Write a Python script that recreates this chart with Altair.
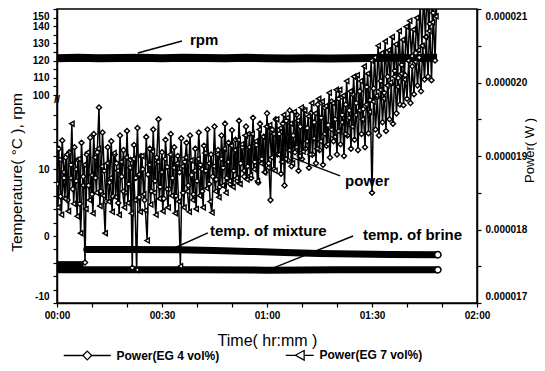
import altair as alt
import pandas as pd

FONT = "Liberation Sans"

# ---------------- data ----------------
power_series = ["Power(EG 4 vol%)", "Power(EG 7 vol%)"]
sample_step = 0.5      # minutes between samples
eg4_start = 0.0
eg7_start = 0.25

# power in micro-watts (axis shows W)
eg4_power = [
    18.62, 19.10, 18.45, 19.21, 18.70, 18.98, 18.40, 19.05, 18.88, 18.55,
    19.12, 18.66, 18.95, 18.35, 19.18, 18.72, 17.55, 19.02, 18.60, 19.25,
    18.48, 19.30, 18.70, 19.05, 19.66, 18.52, 19.32, 18.80, 18.38, 19.12,
    18.64, 19.20, 18.45, 19.02, 18.90, 18.36, 19.28, 18.72, 19.08, 18.50,
    19.34, 18.62, 18.95, 17.48, 19.15, 18.70, 19.38, 18.44, 19.00, 18.82,
    18.40, 19.26, 18.75, 19.10, 18.52, 19.36, 18.66, 18.98, 19.50, 18.58,
    19.05, 18.42, 19.22, 18.85, 18.55, 19.30, 18.70, 19.12, 18.46, 19.00,
    18.78, 19.24, 18.50, 18.92, 19.18, 18.60, 19.28, 18.74, 18.48, 19.10,
    18.66, 19.32, 18.88, 18.52, 19.14, 18.80, 19.36, 18.62, 19.02, 18.72,
    19.40, 18.68, 19.08, 18.58, 19.28, 18.84, 19.44, 18.70, 19.18, 18.62,
    19.35, 18.80, 19.22, 18.66, 19.48, 18.90, 19.12, 18.72, 19.40, 18.86,
    19.30, 18.70, 19.52, 18.92, 19.15, 18.64, 19.44, 18.96, 19.26, 18.78,
    19.58, 18.90, 18.40, 19.36, 18.82, 19.50, 19.02, 19.30, 18.76, 19.44,
    18.60, 19.48, 18.94, 19.62, 18.86, 19.28, 19.05, 19.56, 18.80, 19.40,
    18.96, 19.64, 19.10, 19.38, 18.84, 19.58, 19.02, 19.46, 18.90, 19.70,
    19.08, 19.52, 18.88, 19.66, 19.14, 19.42, 18.98, 19.74, 19.20, 19.50,
    19.02, 19.78, 19.16, 19.56, 19.00, 19.70, 19.28, 19.62, 19.10, 19.84,
    19.22, 19.72, 19.08, 19.88, 19.30, 19.64, 19.12, 19.94, 19.31, 19.76,
    18.50, 19.92, 19.36, 19.80, 19.28, 20.02, 19.46, 19.86, 19.34, 20.08,
    19.50, 19.98, 19.44, 20.16, 19.58, 20.06, 19.70, 20.24, 19.69, 20.10,
    19.78, 20.30, 19.72, 20.22, 19.84, 20.40, 19.96, 20.34, 19.88, 20.50,
    20.04, 20.62, 20.08, 20.80, 20.03, 20.95, 20.30, 21.10,
]
eg7_power = [
    18.30, 18.95, 18.20, 18.78, 18.42, 19.02, 18.25, 18.70, 19.44, 18.35,
    18.82, 18.18, 18.96, 17.95, 18.60, 18.88, 18.28, 19.05, 18.40, 18.74,
    18.22, 18.98, 18.50, 19.10, 18.32, 18.86, 18.46, 17.95, 18.90, 18.38,
    18.70, 18.24, 19.04, 18.44, 18.80, 18.20, 18.92, 18.52, 18.30, 18.98,
    18.36, 18.84, 18.22, 18.96, 18.40, 17.45, 18.75, 18.24, 19.00, 18.48,
    18.26, 17.85, 18.88, 18.34, 19.06, 18.50, 18.20, 18.92, 18.42, 18.78,
    18.25, 18.96, 18.55, 18.30, 19.02, 18.46, 18.84, 18.22, 18.90, 18.38,
    17.50, 18.86, 18.30, 18.98, 18.52, 18.24, 18.94, 18.40, 18.80, 18.28,
    18.96, 18.46, 18.82, 18.30, 19.04, 18.56, 18.90, 18.38, 18.23, 18.86,
    18.52, 19.02, 18.44, 18.96, 18.60, 19.10, 18.50, 18.92, 18.66, 19.14,
    18.58, 19.08, 18.70, 19.22, 18.62, 19.16, 18.80, 19.28, 18.68, 19.12,
    18.74, 19.30, 18.82, 19.20, 18.66, 19.36, 18.90, 19.26, 18.78, 19.40,
    18.84, 19.42, 18.98, 19.30, 18.80, 19.50, 19.02, 19.38, 18.92, 19.56,
    18.96, 19.52, 19.08, 19.44, 18.90, 19.60, 19.12, 19.48, 19.00, 19.66,
    19.06, 19.62, 19.20, 19.54, 19.02, 19.72, 19.24, 19.58, 19.10, 19.78,
    19.20, 19.74, 19.30, 19.68, 19.16, 19.86, 19.36, 19.72, 19.26, 19.90,
    19.34, 19.90, 19.46, 19.82, 19.30, 20.02, 19.52, 19.88, 19.40, 20.08,
    19.56, 20.10, 19.62, 20.02, 19.50, 20.22, 19.70, 20.12, 19.60, 20.30,
    19.74, 20.34, 19.82, 20.50, 19.90, 20.40, 19.78, 20.56, 19.96, 20.44,
    20.00, 20.62, 20.08, 20.52, 19.94, 20.70, 20.12, 20.58, 20.04, 20.76,
    20.30, 20.84, 20.36, 20.72, 20.28, 20.88, 20.44, 21.05, 20.50, 21.20,
    20.62, 21.25, 20.70, 21.35, 20.82, 21.40, 20.90, 21.50,
]

rpm_time = [0, 6, 12, 18, 24, 30, 36, 42, 48, 54, 60, 66, 72, 78, 84, 90, 96, 102, 108.6]
rpm_value = [121.4, 121.6, 121.3, 121.5, 121.7, 121.4, 121.6, 121.5, 121.3, 121.6,
             121.4, 121.2, 121.3, 121.2, 121.4, 121.5, 121.6, 121.5, 121.6]

mixture_start_time = [0, 7.6]
mixture_start_temp = [-4.2, -4.2]
mixture_time = [8.5, 20, 35, 45, 55, 65, 75, 85, 95, 108.8]
mixture_temp = [-2.0, -2.0, -2.05, -2.15, -2.3, -2.45, -2.6, -2.7, -2.75, -2.8]
brine_time = [0, 20, 40, 60, 80, 100, 108.8]
brine_temp = [-5.05, -5.05, -5.05, -5.1, -5.05, -5.05, -5.05]

ann_text = ["rpm", "power", "temp. of mixture", "temp. of brine"]
ann_time = [38.0, 82.3, 43.7, 87.4]
ann_value = [132.0, 8.2, 0.75, 0.15]
pointer_time_from = [23.1, 66.6, 32.9, 61.7]
pointer_value_from = [124.4, 11.8, -1.94, -4.8]
pointer_time_to = [35.7, 80.9, 43.1, 84.6]
pointer_value_to = [131.4, 8.96, 0.45, 0.0]

time_ticks = list(range(0, 121, 10))
temp_ticks = list(range(-10, 20, 2)) + list(range(100, 151, 5))
power_ticks = [17, 17.5, 18, 18.5, 19, 19.5, 20, 20.5, 21]

# ---------------- tables ----------------
eg4_time = [eg4_start + sample_step * i for i in range(len(eg4_power))]
eg7_time = [eg7_start + sample_step * i for i in range(len(eg7_power))]
power_df = pd.DataFrame({
    "t": eg4_time + eg7_time,
    "p": eg4_power + eg7_power,
    "series": [power_series[0]] * len(eg4_power) + [power_series[1]] * len(eg7_power),
})
rpm_df = pd.DataFrame({"t": rpm_time, "v": rpm_value})
mix0_df = pd.DataFrame({"t": mixture_start_time, "v": mixture_start_temp})
mix_df = pd.DataFrame({"t": mixture_time, "v": mixture_temp})
brine_df = pd.DataFrame({"t": brine_time, "v": brine_temp})
ends_df = pd.DataFrame({"t": [mixture_time[-1], brine_time[-1]],
                        "v": [mixture_temp[-1], brine_temp[-1]]})
ann_df = pd.DataFrame({"t": ann_time, "v": ann_value, "label": ann_text})
ptr_df = pd.DataFrame({"t": pointer_time_from, "v": pointer_value_from,
                       "t2": pointer_time_to, "v2": pointer_value_to})
brk_df = pd.DataFrame({"t": [0], "v": [45], "label": ["//"]})

# ---------------- scales / axes ----------------
W, H = 420, 294

axis_style = dict(domainColor="black", domainWidth=1.5, tickColor="black", tickWidth=1.2,
                  tickSize=4, labelFont=FONT, labelFontSize=10, labelFontWeight="bold",
                  labelColor="black", titleFont=FONT,
                  titleFontWeight="normal", titleColor="black", grid=False,
                  labelOverlap=False)

x_axis = alt.Axis(
    values=time_ticks,
    labelExpr="datum.value % 30 == 0 ? (floor(datum.value/60) < 10 ? '0' : '') + floor(datum.value/60) + ':' + (datum.value % 60 < 10 ? '0' : '') + (datum.value % 60) : ''",
    title="Time( hr:mm )", titleX=W / 2, titleY=42, titleBaseline="alphabetic",
    titleFontSize=16, labelFlush=False, labelPadding=3, **axis_style,
)
X = alt.X("t:Q", scale=alt.Scale(domain=[0, 120], nice=False, zero=False), axis=x_axis)

temp_scale = alt.Scale(domain=[-10, 20, 100, 150], range=[H, 93, 86, 0], nice=False, zero=False)
temp_axis = alt.Axis(
    values=temp_ticks,
    labelExpr="datum.value % 10 == 0 ? '' + datum.value : ''",
    title="Temperature( °C ), rpm", titleAngle=270, titleX=-33, titleY=163,
    titleBaseline="bottom", titleFontSize=15.5, labelPadding=4, labelFlush=True,
    labelFlushOffset=-2, **axis_style,
)
Yt = alt.Y("v:Q", scale=temp_scale, axis=temp_axis)

power_scale = alt.Scale(domain=[17, 21], nice=False, zero=False)
power_axis = alt.Axis(
    orient="right", values=power_ticks,
    labelExpr="datum.value % 1 == 0 ? format(datum.value / 1000000, '.6f') : ''",
    title="Power( W )", titleAngle=270, titleX=59, titleY=141, titleBaseline="bottom",
    titleFontSize=13, labelPadding=4, labelFlush=True, labelFlushOffset=-2, **axis_style,
)
Yp = alt.Y("p:Q", scale=power_scale, axis=power_axis)

# ---------------- temperature / rpm layers ----------------
rpm = alt.Chart(rpm_df).mark_line(color="black", strokeWidth=8, clip=True).encode(x=X, y=Yt)
mix0 = alt.Chart(mix0_df).mark_line(color="black", strokeWidth=6, clip=True).encode(x=X, y=Yt)
mix = alt.Chart(mix_df).mark_line(color="black", strokeWidth=7, strokeCap="round", clip=True).encode(x=X, y=Yt)
brine = alt.Chart(brine_df).mark_line(color="black", strokeWidth=7, clip=True).encode(x=X, y=Yt)
ends = alt.Chart(ends_df).mark_point(shape="circle", filled=True, fill="white", stroke="black",
                                     strokeWidth=1.5, size=40, opacity=1).encode(x=X, y=Yt)
ptr = alt.Chart(ptr_df).mark_rule(color="black", strokeWidth=1.4).encode(
    x=X, y=Yt, x2=alt.X2("t2:Q"), y2=alt.Y2("v2:Q"))
ann = alt.Chart(ann_df).mark_text(align="left", baseline="middle", font=FONT, fontSize=15,
                                  fontWeight="bold", color="black").encode(x=X, y=Yt, text="label:N")
brk = alt.Chart(brk_df).mark_text(align="center", baseline="middle", font=FONT, fontSize=11,
                                  fontWeight="bold", color="black").encode(x=X, y=Yt, text="label:N")

temp_group = alt.layer(rpm, mix0, mix, brine, ends, ptr, ann, brk)

# ---------------- power layers ----------------
legend_paths = [
    "M-5.875,0H-1.1M1.1,0H5.875M-1.1,0L0,-1.1L1.1,0L0,1.1Z",
    "M-5.875,0M-1.125,0H1.275M3.475,0H5.875M1.275,0L3.475,-1.2L3.475,1.2Z",
]

p_lines = alt.Chart(power_df).mark_line(color="black", strokeWidth=1.5, clip=True).encode(
    x=X, y=Yp, detail="series:N")
p_pts = alt.Chart(power_df).mark_point(filled=True, fill="white", stroke="black", strokeWidth=1.4,
                                       size=26, opacity=1, clip=True).encode(
    x=X, y=Yp,
    shape=alt.Shape("series:N", scale=alt.Scale(domain=power_series, range=["diamond", "triangle-left"]),
                    legend=None))
p_leg = alt.Chart(power_df).transform_filter("false").mark_point(
    filled=False, color="black", stroke="black", strokeWidth=1.3, opacity=1).encode(
    x=X, y=Yp,
    shape=alt.Shape("series:N", scale=alt.Scale(domain=power_series, range=legend_paths),
                    legend=alt.Legend(title=None, orient="none", legendX=6, legendY=340,
                                      direction="horizontal", symbolSize=64, symbolOffset=18.25,
                                      labelOffset=23.25, columnPadding=44, padding=0,
                                      labelFont=FONT, labelFontSize=12, labelFontWeight="bold",
                                      labelColor="black", labelLimit=300,
                                      symbolStrokeWidth=1.3, symbolStrokeColor="black",
                                      symbolFillColor="white", symbolOpacity=1)))

power_group = alt.layer(p_lines, p_pts, p_leg).resolve_scale(shape="independent")

chart = (
    alt.layer(temp_group, power_group)
    .resolve_scale(y="independent")
    .properties(width=W, height=H, autosize=alt.AutoSizeParams(type="none"),
                padding={"left": 49, "top": 1, "right": 60, "bottom": 60})
    .configure(font=FONT, background="white")
    .configure_view(stroke="black", strokeWidth=1.5)
)

chart.save("out.html", embed_options={"renderer": "svg", "actions": False})
